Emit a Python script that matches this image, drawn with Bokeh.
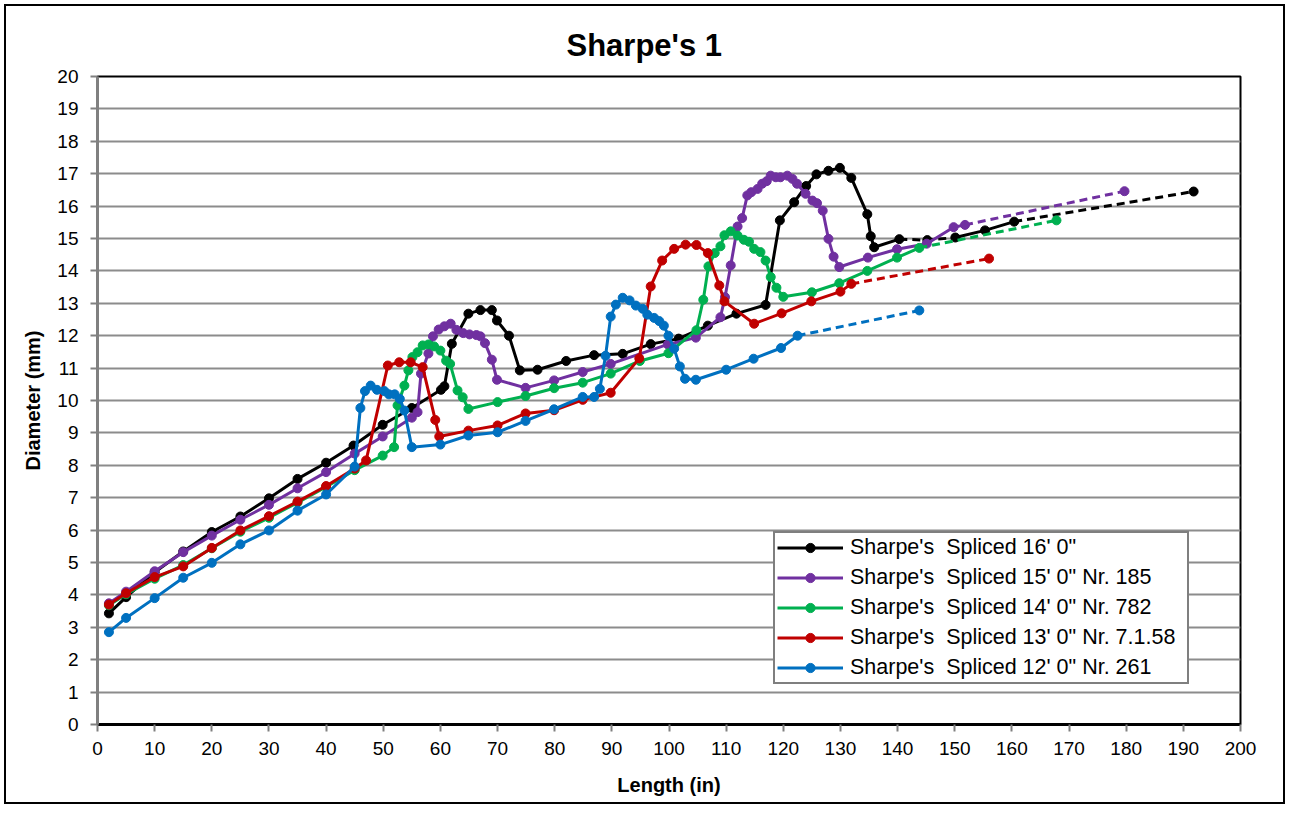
from bokeh.plotting import figure
from bokeh.models import Legend, LegendItem, FixedTicker, Range1d
from bokeh.embed import file_html
from bokeh.resources import INLINE

# ---------------- data ----------------
black_x = [2, 5, 10, 15, 20, 25, 30, 35, 40, 44.8, 49.9, 55, 60.1, 60.7, 62, 64.9, 67, 69, 69.9, 72,
           73.9, 77, 82, 86.9, 91.9, 96.8, 101.7, 106.8, 111.8, 116.9, 119.4, 121.9, 124, 125.8, 127.9,
           129.9, 131.9, 134.7, 135.3, 135.9, 140.3, 145.2, 150.1, 155.3, 160.4, 191.8]
black_y = [3.43, 3.93, 4.70, 5.34, 5.94, 6.42, 6.98, 7.58, 8.08, 8.61, 9.25, 9.77, 10.33, 10.44, 11.75,
           12.68, 12.79, 12.79, 12.47, 12.00, 10.93, 10.95, 11.22, 11.40, 11.44, 11.74, 11.91, 12.31,
           12.68, 12.95, 15.56, 16.12, 16.62, 16.98, 17.09, 17.18, 16.87, 15.75, 15.07, 14.73, 14.98,
           14.95, 15.03, 15.25, 15.52, 16.45]
black_dashed = [(140.3, 150.1), (160.4, 191.8)]

purple_x = [2, 5, 10, 15, 20, 25, 30, 35, 40, 45, 49.9, 55, 56, 56.6, 57.9, 58.7, 59.7, 60.7, 61.8,
            62.8, 64, 65.1, 66.3, 67, 67.8, 69, 69.9, 74.9, 79.9, 84.9, 89.8, 99.8, 104.7, 109, 109.8,
            110.8, 112, 112.8, 113.7, 114.4, 115.5, 116.3, 117.1, 117.8, 118.7, 119.5, 120.7, 121.6,
            122.4, 123.9, 125.1, 125.9, 126.9, 127.9, 128.8, 129.8, 134.8, 139.9, 145.1, 149.8, 151.8,
            179.7]
purple_y = [3.74, 4.10, 4.73, 5.32, 5.83, 6.32, 6.78, 7.29, 7.79, 8.36, 8.89, 9.47, 9.64, 10.83, 11.45,
            11.98, 12.19, 12.29, 12.37, 12.18, 12.08, 12.04, 12.02, 11.98, 11.77, 11.26, 10.64, 10.39,
            10.62, 10.88, 11.13, 11.73, 11.94, 12.57, 13.19, 14.17, 15.37, 15.63, 16.33, 16.43, 16.53,
            16.69, 16.77, 16.94, 16.89, 16.89, 16.94, 16.84, 16.69, 16.38, 16.17, 16.09, 15.86, 14.99,
            14.44, 14.12, 14.41, 14.67, 14.84, 15.35, 15.42, 16.46]
purple_dashed = [(151.8, 179.7)]

green_x = [2, 5, 10, 15, 20, 25, 30, 35, 40, 45, 49.9, 51.9, 52.5, 53.7, 54.4, 55.1, 56, 56.9, 57.9,
           58.9, 60, 61, 61.7, 63, 63.9, 64.9, 70, 74.9, 79.9, 84.9, 89.8, 94.9, 99.9, 104.8, 106,
           106.9, 108, 109, 109.7, 110.8, 112, 113.1, 114, 114.9, 116, 116.9, 117.8, 118.8, 120, 125,
           129.8, 134.7, 139.9, 143.8, 167.8]
green_y = [3.68, 4.02, 4.50, 4.92, 5.44, 5.95, 6.38, 6.85, 7.33, 7.85, 8.30, 8.56, 9.85, 10.46, 10.93,
           11.34, 11.49, 11.70, 11.73, 11.67, 11.54, 11.23, 11.13, 10.31, 10.10, 9.74, 9.95, 10.14,
           10.38, 10.55, 10.83, 11.22, 11.46, 12.17, 13.11, 14.14, 14.55, 14.76, 15.10, 15.22, 15.09,
           14.96, 14.90, 14.68, 14.58, 14.32, 13.81, 13.48, 13.20, 13.34, 13.62, 14.00, 14.41, 14.71,
           15.56]
green_dashed = [(143.8, 167.8)]

red_x = [2, 5, 10, 15, 20, 25, 30, 35, 40, 45, 47, 50.8, 52.8, 54.8, 56.9, 59.1, 59.8, 64.9, 70, 74.9,
         79.9, 84.9, 89.8, 94.8, 96.8, 98.8, 100.9, 102.9, 104.8, 106.8, 108.8, 109.7, 114.9, 119.7,
         124.9, 130, 131.9, 156]
red_y = [3.70, 4.05, 4.55, 4.88, 5.45, 5.99, 6.43, 6.88, 7.36, 7.90, 8.15, 11.08, 11.18, 11.18, 11.03,
         9.40, 8.89, 9.07, 9.23, 9.60, 9.70, 10.02, 10.24, 11.30, 13.52, 14.32, 14.68, 14.81, 14.80,
         14.55, 13.55, 13.06, 12.37, 12.69, 13.06, 13.36, 13.60, 14.38]
red_dashed = [(131.9, 156)]

blue_x = [2, 5, 10, 15, 20, 25, 30, 35, 40, 45, 46, 46.8, 47.8, 48.9, 50.2, 51, 52, 52.9, 53.7, 55, 60,
          64.9, 70, 74.9, 79.9, 84.9, 86.9, 87.9, 88.9, 89.8, 90.7, 91.9, 93.1, 94.2, 95.4, 96.2, 97.4,
          98.3, 99.1, 99.9, 100.9, 101.9, 102.8, 104.7, 110, 114.8, 119.6, 122.5, 143.8]
blue_y = [2.85, 3.29, 3.90, 4.53, 4.99, 5.56, 5.99, 6.60, 7.10, 7.96, 9.77, 10.29, 10.46, 10.33, 10.29,
          10.19, 10.19, 10.05, 9.69, 8.56, 8.64, 8.92, 9.02, 9.37, 9.73, 10.11, 10.11, 10.36, 11.38,
          12.59, 12.96, 13.17, 13.09, 12.93, 12.83, 12.65, 12.55, 12.45, 12.31, 12.00, 11.60, 11.05,
          10.67, 10.64, 10.95, 11.29, 11.62, 12.00, 12.78]
blue_dashed = [(122.5, 143.8)]

series = [
    ("Sharpe's  Spliced 16' 0\"", "#000000", black_x, black_y, black_dashed),
    ("Sharpe's  Spliced 15' 0\" Nr. 185", "#7030A0", purple_x, purple_y, purple_dashed),
    ("Sharpe's  Spliced 14' 0\" Nr. 782", "#00B050", green_x, green_y, green_dashed),
    ("Sharpe's  Spliced 13' 0\" Nr. 7.1.58", "#C00000", red_x, red_y, red_dashed),
    ("Sharpe's  Spliced 12' 0\" Nr. 261", "#0070C0", blue_x, blue_y, blue_dashed),
]

FONT = "Liberation Sans"

p = figure(width=1281, height=800, x_range=Range1d(0, 200), y_range=Range1d(0, 20),
           output_backend="svg", toolbar_location=None,
           min_border_left=91, min_border_right=47, min_border_top=70, min_border_bottom=82)
p.styles = {"border": "2px solid black", "margin": "4px"}

p.title.text = "Sharpe's 1"
p.title.align = "left"
p.title.offset = 469
p.title.text_font = FONT
p.title.text_font_size = "31px"
p.title.text_font_style = "bold"
p.title.text_color = "black"
p.title.standoff = 27

p.xgrid.visible = False
p.ygrid.ticker = FixedTicker(ticks=list(range(0, 21)))
p.ygrid.grid_line_color = "#8c8c8c"
p.ygrid.grid_line_width = 2

p.outline_line_color = "black"
p.outline_line_width = 2

p.xaxis.ticker = FixedTicker(ticks=list(range(0, 201, 10)))
p.yaxis.ticker = FixedTicker(ticks=list(range(0, 21)))
for ax in (p.xaxis[0], p.yaxis[0]):
    ax.major_label_text_font = FONT
    ax.major_label_text_font_size = "19px"
    ax.major_label_text_color = "black"
    ax.axis_label_text_font = FONT
    ax.axis_label_text_font_size = "20px"
    ax.axis_label_text_font_style = "bold"
    ax.axis_label_text_color = "black"
    ax.major_tick_in = 0
    ax.major_tick_out = 7
    ax.major_tick_line_color = "#808080"
    ax.major_tick_line_width = 2
    ax.minor_tick_line_color = None

p.xaxis.axis_label = "Length (in)"
p.yaxis.axis_label = "Diameter (mm)"
p.xaxis.axis_line_color = "black"
p.xaxis.axis_line_width = 3
p.yaxis.axis_line_color = "#808080"
p.yaxis.axis_line_width = 3
p.xaxis.major_label_standoff = 10
p.yaxis.major_label_standoff = 12
p.xaxis.axis_label_standoff = 16
p.yaxis.axis_label_standoff = 10


def is_dashed(x0, x1, ranges):
    return any(x0 >= a - 1e-9 and x1 <= b + 1e-9 for a, b in ranges)


items = []
for label, color, xs, ys, dashed in series:
    # split into runs of equal line style
    runs = []
    for i in range(len(xs) - 1):
        d = is_dashed(xs[i], xs[i + 1], dashed)
        if runs and runs[-1][0] == d:
            runs[-1][1].append(i + 1)
        else:
            runs.append([d, [i, i + 1]])
    legend_line = None
    for d, idx in runs:
        r = p.line([xs[k] for k in idx], [ys[k] for k in idx], line_color=color, line_width=3,
                   line_dash="8 5" if d else "solid")
        if not d and legend_line is None:
            legend_line = r
    sc = p.scatter(xs, ys, size=9, marker="circle", fill_color=color, line_color=color)
    items.append(LegendItem(label=label, renderers=[legend_line, sc]))

legend = Legend(items=items, location=(676, 40))
legend.label_text_font = FONT
legend.label_text_font_size = "21.5px"
legend.label_text_color = "black"
legend.border_line_color = "black"
legend.border_line_width = 2
legend.background_fill_color = "white"
legend.background_fill_alpha = 1
legend.glyph_width = 66
legend.glyph_height = 23
legend.label_height = 23
legend.label_width = 335
legend.spacing = 5
legend.padding = 2
legend.margin = 0
legend.label_standoff = 7
p.add_layout(legend)

open("out.html", "w").write(file_html(p, INLINE))
